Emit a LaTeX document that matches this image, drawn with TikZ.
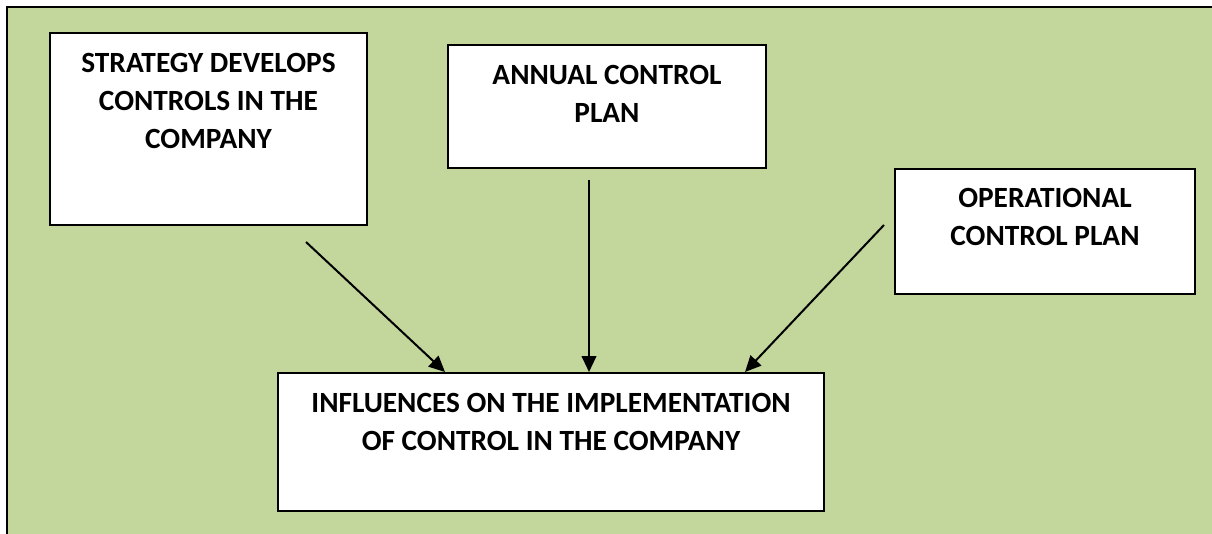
\documentclass[tikz,border=0pt]{standalone}
\usepackage{fontspec}
\setmainfont{Carlito}
\usepackage{xcolor}
\usetikzlibrary{arrows.meta, positioning, calc}

\definecolor{olivebg}{HTML}{C3D69B}

\begin{document}
\begin{tikzpicture}[
  x=0.75pt, y=-0.75pt,
  box/.style={rectangle, draw=black, fill=white, line width=1.5pt, inner sep=0pt, anchor=north west},
  boxtext/.style={inner sep=0pt, align=center, font=\bfseries\fontsize{22}{28.5}\selectfont},
  arrow/.style={line width=1.5pt, -{Triangle[length=12pt, width=11pt]}}
]
\useasboundingbox (0,0) rectangle (1212,534);
% background panel, open on the right and at the bottom
\fill [olivebg] (7,7) rectangle (1212,534);
\draw [line width=2.2pt] (7,534) -- (7,7) -- (1212,7);

\node (strategy) [box, minimum width=237.75pt, minimum height=144pt] at (49,32) {};
\node (strategytext) [boxtext, below=16pt of strategy.north] {STRATEGY DEVELOPS\\CONTROLS IN THE\\COMPANY};
\node (annual) [box, minimum width=238.5pt, minimum height=92.25pt] at (447,44) {};
\node (annualtext) [boxtext, below=15.5pt of annual.north] {ANNUAL CONTROL\\PLAN};
\node (operational) [box, minimum width=225pt, minimum height=93.75pt] at (894,168) {};
\node (operationaltext) [boxtext, below=15pt of operational.north] {OPERATIONAL\\CONTROL PLAN};
\node (infl) [box, minimum width=409.5pt, minimum height=103.5pt] at (277,372) {};
\node (infltext) [boxtext, below=15.5pt of infl.north] {INFLUENCES ON THE IMPLEMENTATION\\OF CONTROL IN THE COMPANY};

% arrow ends
\coordinate (s1) at (306,242);
\coordinate (s2) at (589,180);
\coordinate (s3) at (884,225);
\coordinate (t1) at ($(infl.north west)+(168,0)$);
\coordinate (t2) at ($(infl.north west)+(312,0)$);
\coordinate (t3) at ($(infl.north west)+(468,0)$);

\draw [arrow] (s1) -- (t1);
\draw [arrow] (s2) -- (t2);
\draw [arrow] (s3) -- (t3);
\end{tikzpicture}
\end{document}
